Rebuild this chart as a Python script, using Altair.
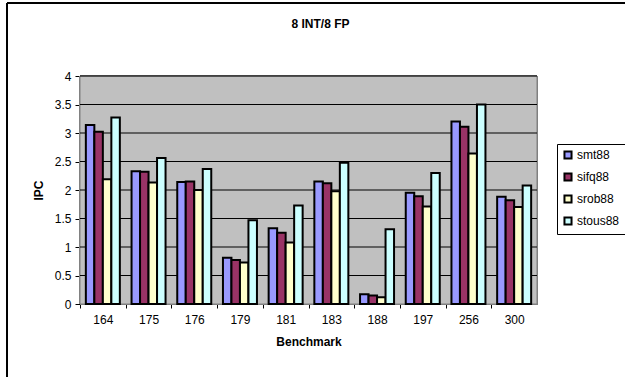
import altair as alt
import pandas as pd

benchmarks = ["164", "175", "176", "179", "181", "183", "188", "197", "256", "300"]
series = ["smt88", "sifq88", "srob88", "stous88"]
smt88 = [3.14, 2.33, 2.14, 0.81, 1.33, 2.15, 0.17, 1.95, 3.20, 1.88]
sifq88 = [3.02, 2.32, 2.15, 0.77, 1.25, 2.12, 0.15, 1.89, 3.11, 1.82]
srob88 = [2.19, 2.13, 2.00, 0.73, 1.08, 1.98, 0.12, 1.71, 2.64, 1.70]
stous88 = [3.27, 2.56, 2.37, 1.47, 1.73, 2.48, 1.31, 2.30, 3.50, 2.08]
colors = ["#9999FF", "#993366", "#FFFFCC", "#CCFFFF"]
y_ticks = [0, 0.5, 1, 1.5, 2, 2.5, 3, 3.5, 4]

rows = []
for s, vals in zip(series, [smt88, sifq88, srob88, stous88]):
    for b, v in zip(benchmarks, vals):
        rows.append({"Benchmark": b, "Series": s, "IPC": v})
df = pd.DataFrame(rows)
grid_df = pd.DataFrame({"IPC": y_ticks[1:]})

W, H = 457, 228
FONT = "Liberation Sans"
pin, pout = 0.256, 0.128
step = W / (10 + 2 * pout - pin)

yscale = alt.Scale(domain=[0, 4])
y_axis = alt.Axis(title="IPC", values=y_ticks,
                  format="~g", tickSize=5, tickColor="black", domainColor="black",
                  grid=False, labelPadding=4, titlePadding=9,
                  labelFont=FONT, labelFontSize=12, labelColor="black",
                  titleFont=FONT, titleFontSize=12, titleFontWeight="bold",
                  titleColor="black")

plot_bg = alt.Chart(grid_df).mark_rect(fill="#C0C0C0", stroke="#808080", strokeWidth=1).encode(
    x=alt.value(0), x2=alt.value(W), y=alt.value(0), y2=alt.value(H))

grid = alt.Chart(grid_df).mark_rule(color="black", strokeWidth=1).encode(
    x=alt.value(0), x2=alt.value(W),
    y=alt.Y("IPC:Q", scale=yscale, axis=y_axis))

bars = alt.Chart(df).mark_bar(stroke="black", strokeWidth=2).encode(
    x=alt.X("Benchmark:N", sort=benchmarks,
            scale=alt.Scale(paddingInner=pin, paddingOuter=pout),
            axis=alt.Axis(title="Benchmark", labelAngle=0, tickOffset=-step / 2,
                          labelOffset=step / 2, tickSize=4, tickColor="black",
                          domainColor="black", labelPadding=6, titlePadding=11,
                          grid=False, labelFont=FONT, labelFontSize=12, labelColor="black",
                          titleFont=FONT, titleFontSize=12, titleFontWeight="bold",
                          titleColor="black")),
    xOffset=alt.XOffset("Series:N", sort=series, scale=alt.Scale(paddingInner=0, paddingOuter=0)),
    y=alt.Y("IPC:Q", scale=yscale, axis=y_axis),
    color=alt.Color("Series:N", sort=series,
                    scale=alt.Scale(domain=series, range=colors),
                    legend=alt.Legend(title=None, orient="none", legendX=477, legendY=68,
                                      symbolType="square", symbolSize=50,
                                      symbolStrokeColor="black", symbolStrokeWidth=2,
                                      strokeColor="black", padding=5, rowPadding=6,
                                      labelFontSize=12, labelFont=FONT, labelColor="black",
                                      labelOffset=3, fillColor="white")),
)

frame_left = alt.Chart(grid_df).mark_rule(color="black", strokeWidth=1).encode(
    x=alt.value(-73), y=alt.value(-73), y2=alt.value(400))
frame_top = alt.Chart(grid_df).mark_rule(color="black", strokeWidth=1).encode(
    x=alt.value(-73), x2=alt.value(600), y=alt.value(-73))

chart = alt.layer(frame_left, frame_top, plot_bg, grid, bars).properties(
    width=W, height=H,
    background="white",
    autosize=alt.AutoSizeParams(type="none"),
    padding={"left": 80, "top": 76, "right": 88, "bottom": 73},
    title=alt.Title("8 INT/8 FP", font=FONT, fontSize=12, fontWeight="bold", color="black",
                    anchor="middle", dx=12, offset=-28, frame="group"),
).configure_view(stroke=None)

chart.save("out.html", embed_options={"renderer": "svg", "actions": False})
